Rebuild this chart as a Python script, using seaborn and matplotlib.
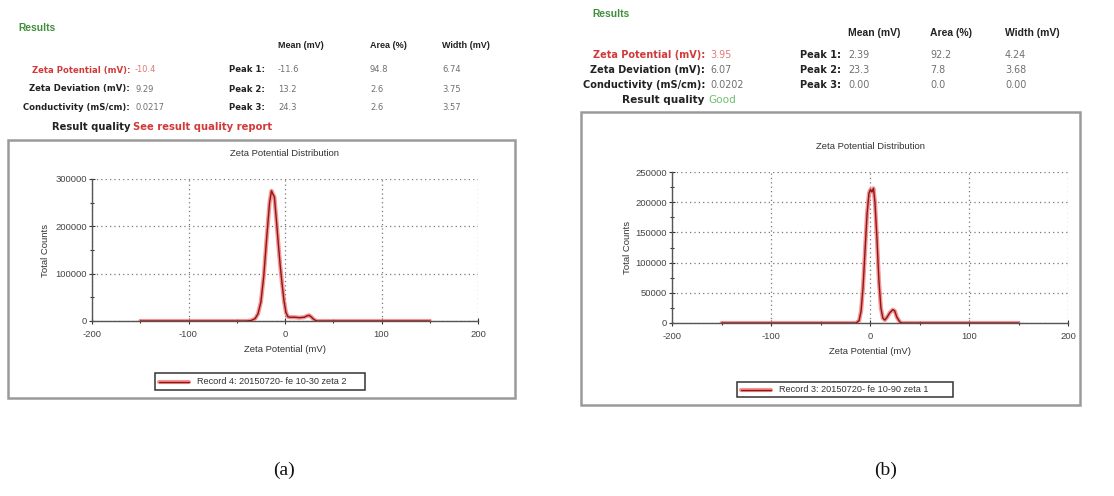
import matplotlib
matplotlib.use("Agg")
import matplotlib.pyplot as plt
from matplotlib.patches import Rectangle
from matplotlib.lines import Line2D
import pandas as pd
import seaborn as sns

sns.set_theme(style="white")
plt.rcParams["font.family"] = ["Liberation Sans", "DejaVu Sans"]

W, H = 1114, 496

# ---- measured distributions -------------------------------------------------
# (a) Record 4
zeta_a = [-150, -40, -35, -31, -28, -25, -22, -19, -16, -14, -12.5, -11, -9, -7, -5,
          -3, -1, 1, 3, 5, 10, 15, 20, 23, 25, 27, 30, 33, 150]
counts_a = [0, 0, 1000, 5000, 15000, 40000, 95000, 175000, 250000, 275000, 268000,
            262000, 215000, 165000, 118000, 78000, 42000, 18000, 9000, 8000, 8000,
            7000, 8000, 11000, 12000, 9000, 3000, 0, 0]

# (b) Record 3
zeta_b = [-150, -14, -11, -9, -7, -5, -3, -1, 0.5, 2, 3.5, 5, 7, 9, 11, 13, 15, 17,
          20, 23, 25, 27, 30, 32, 150]
counts_b = [0, 0, 4000, 20000, 60000, 120000, 180000, 215000, 221000, 217000,
            223000, 200000, 140000, 70000, 25000, 8000, 5000, 9000, 17000, 22000,
            20000, 10000, 2000, 0, 0]

# ---- summary tables ---------------------------------------------------------
summary_labels = ["Zeta Potential (mV):", "Zeta Deviation (mV):", "Conductivity (mS/cm):"]
peak_labels = ["Peak 1:", "Peak 2:", "Peak 3:"]
peak_headers = ["Mean (mV)", "Area (%)", "Width (mV)"]

summary_a = ["-10.4", "9.29", "0.0217"]
mean_a = ["-11.6", "13.2", "24.3"]
area_a = ["94.8", "2.6", "2.6"]
width_a = ["6.74", "3.75", "3.57"]
quality_a = "See result quality report"
record_a = "Record 4: 20150720- fe 10-30 zeta 2"

summary_b = ["3.95", "6.07", "0.0202"]
mean_b = ["2.39", "23.3", "0.00"]
area_b = ["92.2", "7.8", "0.0"]
width_b = ["4.24", "3.68", "0.00"]
quality_b = "Good"
record_b = "Record 3: 20150720- fe 10-90 zeta 1"

y_ticks_a = [0, 100000, 200000, 300000]
y_ticks_b = [0, 50000, 100000, 150000, 200000, 250000]
x_ticks = [-200, -100, 0, 100, 200]

fig = plt.figure(figsize=(W / 100, H / 100), dpi=100)
fig.patch.set_facecolor("white")

GREEN = "#3f8f3a"
RED = "#d23a3a"
DARK = "#222222"
GREY = "#707070"
LINE = "#8e1616"
HALO = "#f27a7a"
WIDE = ["DejaVu Sans"]


def fx(px):
    return px / W


def fy(py):
    return 1 - py / H


def txt(x, y, s, **kw):
    kw.setdefault("fontsize", 6.3)
    kw.setdefault("va", "center")
    fig.text(fx(x), fy(y), s, **kw)


def panel(cfg):
    k = cfg["scale"]
    # header block
    txt(cfg["results"][0], cfg["results"][1], "Results", color=GREEN, fontweight="bold",
        fontsize=cfg["results_fs"])
    for hx, h in zip(cfg["hdr_x"], peak_headers):
        txt(hx, cfg["hdr_y"], h, color=DARK, fontweight="bold", fontsize=6.5 * k)
    for i, ry in enumerate(cfg["rows"]):
        lab_color = RED if i == 0 else DARK
        val_color = "#e07878" if i == 0 else GREY
        txt(cfg["lab_r"], ry, summary_labels[i], ha="right", color=lab_color,
            fontweight="bold", family=WIDE, fontsize=6.1 * k)
        txt(cfg["lab_r"] + 5, ry, cfg["summary"][i], color=val_color, family=WIDE,
            fontsize=6.0 * k)
        txt(cfg["peak_x"], ry, peak_labels[i], color=DARK, fontweight="bold",
            family=WIDE, fontsize=6.1 * k)
        for hx, col in zip(cfg["hdr_x"], (cfg["mean"], cfg["area"], cfg["width"])):
            txt(hx, ry, col[i], color=GREY, family=WIDE, fontsize=6.0 * k)
    txt(cfg["lab_r"], cfg["rq_y"], "Result quality", ha="right", color=DARK,
        fontweight="bold", family=WIDE, fontsize=cfg["rq_fs"])
    txt(cfg["lab_r"] + 3, cfg["rq_y"], cfg["quality"], color=cfg["q_color"],
        fontweight="bold" if cfg["q_color"] == RED else "normal", family=WIDE,
        fontsize=cfg["rq_fs"])

    # outer frame
    bx0, by0, bx1, by1 = cfg["box"]
    fig.patches.append(Rectangle((fx(bx0), fy(by1)), (bx1 - bx0) / W, (by1 - by0) / H,
                                 transform=fig.transFigure, fill=False,
                                 edgecolor="#9a9a9a", linewidth=1.8))

    # distribution plot
    ax0, ay0, ax1, ay1 = cfg["axes"]
    ax = fig.add_axes([fx(ax0), fy(ay1), (ax1 - ax0) / W, (ay1 - ay0) / H])
    df = pd.DataFrame({"zeta": cfg["zeta"], "counts": cfg["counts"]})
    sns.lineplot(data=df, x="zeta", y="counts", ax=ax, color=HALO, linewidth=3.0,
                 alpha=0.8, zorder=3)
    sns.lineplot(data=df, x="zeta", y="counts", ax=ax, color=LINE, linewidth=1.0,
                 zorder=4)
    ax.set_xlim(-200, 200)
    ax.set_ylim(0, cfg["ymax"])
    ax.set_xticks(x_ticks)
    ax.set_xticks([-150, -50, 50, 150], minor=True)
    ax.set_yticks(cfg["yticks"])
    ax.set_yticks(cfg["yminor"], minor=True)
    ax.set_xticklabels([str(v) for v in x_ticks])
    ax.set_yticklabels([str(v) for v in cfg["yticks"]])
    ax.tick_params(axis="both", which="major", direction="inout", length=5, width=0.8,
                   colors="#333333", labelsize=6.8, labelcolor="#444444",
                   left=True, bottom=True)
    ax.tick_params(axis="x", which="major", pad=4)
    ax.tick_params(axis="y", which="major", pad=1)
    ax.tick_params(axis="both", which="minor", direction="inout", length=3, width=0.8,
                   colors="#333333", left=True, bottom=True)
    ax.grid(True, which="major", linestyle=(0, (1, 2.5)), color="#777777", linewidth=0.9)
    for s in ("top", "right"):
        ax.spines[s].set_visible(False)
    for s in ("left", "bottom"):
        ax.spines[s].set_color("#555555")
        ax.spines[s].set_linewidth(1.0)
    ax.set_xlabel("")
    ax.set_ylabel("")
    ax.set_facecolor("none")

    cx = (ax0 + ax1) / 2
    txt(cx, cfg["title_y"], "Zeta Potential Distribution", ha="center", fontsize=6.8,
        color="#333333")
    txt(cx, cfg["xlab_y"], "Zeta Potential (mV)", ha="center", fontsize=6.8, color="#333333")
    txt(cfg["ylab_x"], (ay0 + ay1) / 2, "Total Counts", ha="center", rotation=90,
        fontsize=6.8, color="#333333")

    # legend box
    lx0, ly0, lx1, ly1 = cfg["legend"]
    fig.patches.append(Rectangle((fx(lx0), fy(ly1)), (lx1 - lx0) / W, (ly1 - ly0) / H,
                                 transform=fig.transFigure, fill=False,
                                 edgecolor="#333333", linewidth=1.1))
    lyc = (ly0 + ly1) / 2
    fig.lines.append(Line2D([fx(lx0 + 4), fx(lx0 + 34)], [fy(lyc), fy(lyc)],
                            transform=fig.transFigure, color=HALO, linewidth=3.0, alpha=0.8))
    fig.lines.append(Line2D([fx(lx0 + 4), fx(lx0 + 34)], [fy(lyc), fy(lyc)],
                            transform=fig.transFigure, color=LINE, linewidth=1.0))
    txt(lx0 + 42, lyc, cfg["record"], fontsize=6.6, color="#333333")

    txt(cfg["caption"][0], cfg["caption"][1], cfg["tag"], ha="center", fontsize=14,
        family=["Liberation Serif", "DejaVu Serif"], color="#111111")


panel(dict(
    scale=1.0, results_fs=7.4, rq_fs=7.2,
    results=(18, 28), hdr_y=45, hdr_x=(278, 370, 442), rows=(70, 89, 108),
    lab_r=130, peak_x=229, rq_y=127, summary=summary_a, mean=mean_a, area=area_a,
    width=width_a, quality=quality_a, q_color=RED,
    box=(8, 140, 515, 398), axes=(92, 179, 478, 321), ymax=300000,
    yticks=y_ticks_a, yminor=[50000, 150000, 250000],
    zeta=zeta_a, counts=counts_a, title_y=153, xlab_y=349, ylab_x=45,
    legend=(155, 373, 365, 390), record=record_a, caption=(284, 470), tag="(a)",
))

panel(dict(
    scale=1.15, results_fs=7.4, rq_fs=7.6,
    results=(592, 14), hdr_y=33, hdr_x=(848, 930, 1005), rows=(55, 70, 85),
    lab_r=705, peak_x=800, rq_y=100, summary=summary_b, mean=mean_b, area=area_b,
    width=width_b, quality=quality_b, q_color="#6cc06c",
    box=(581, 112, 1080, 405), axes=(672, 172, 1068, 323), ymax=250000,
    yticks=y_ticks_b, yminor=[25000, 75000, 125000, 175000, 225000],
    zeta=zeta_b, counts=counts_b, title_y=146, xlab_y=352, ylab_x=627,
    legend=(737, 382, 953, 397), record=record_b, caption=(886, 470), tag="(b)",
))

fig.savefig("out.png", dpi=100, facecolor="white")
